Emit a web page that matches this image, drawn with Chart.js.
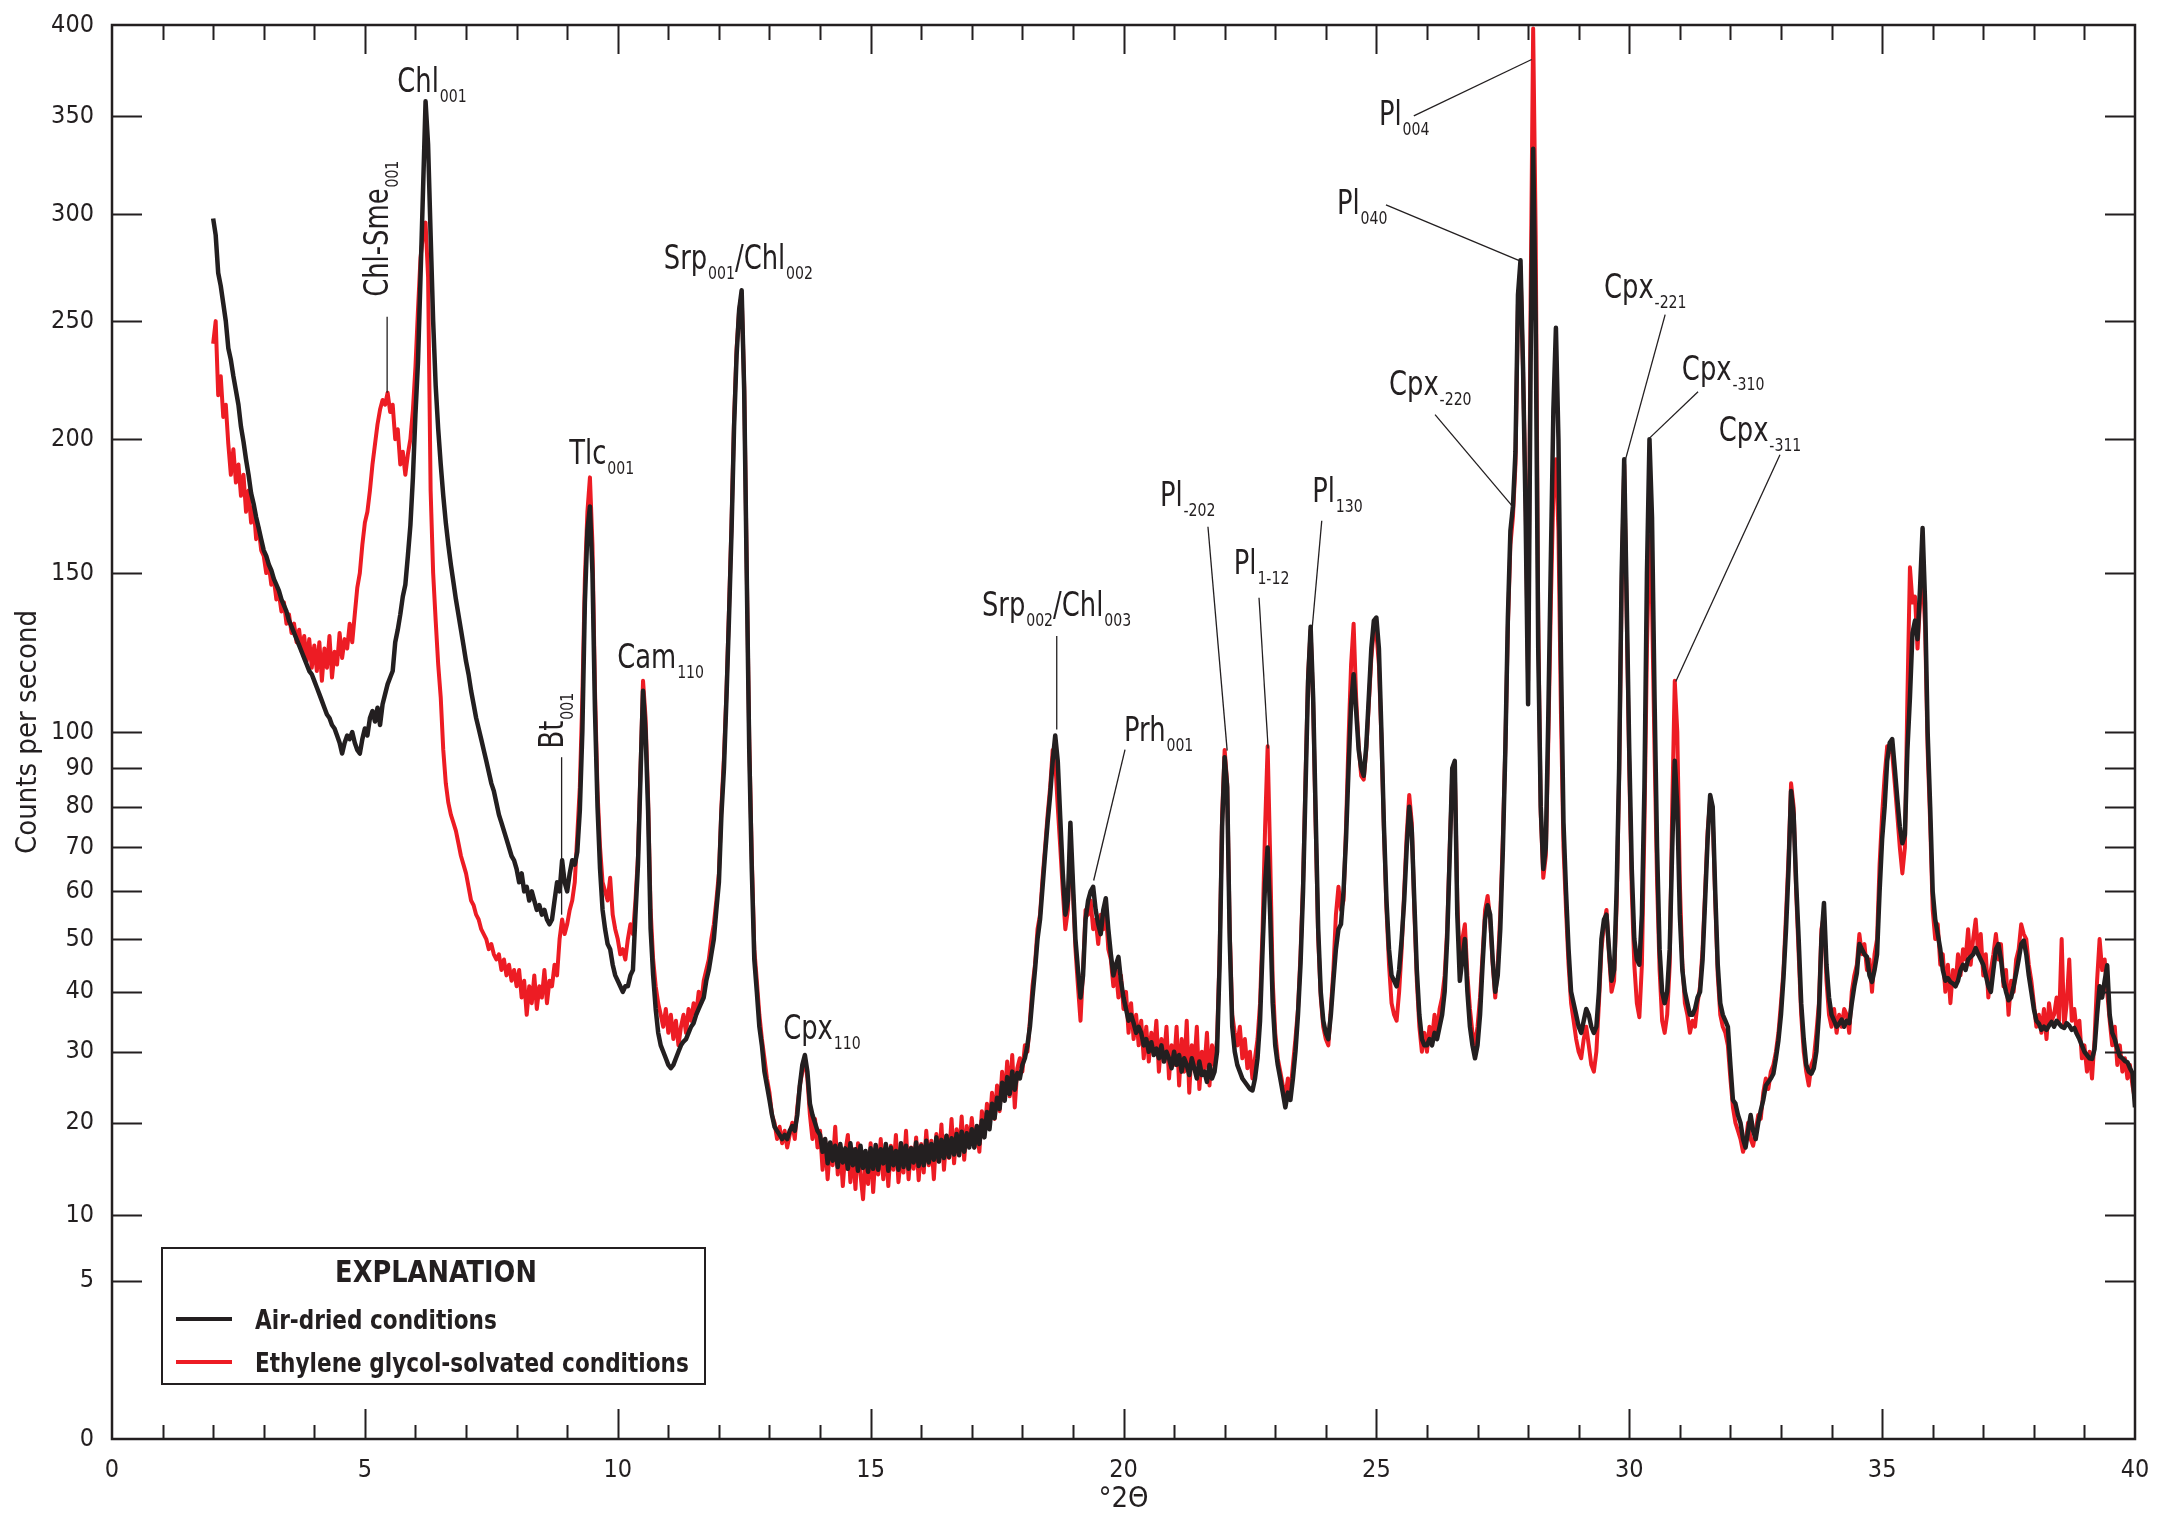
<!DOCTYPE html>
<html>
<head>
<meta charset="utf-8">
<title>XRD pattern - air-dried vs ethylene glycol-solvated</title>
<script src="https://cdn.jsdelivr.net/npm/chart.js@4.4.1/dist/chart.umd.min.js"></script>
<style>
  html, body { margin: 0; padding: 0; background: #fff; }
  #wrap { width: 2170px; height: 1530px; }
</style>
</head>
<body>
<div id="wrap"><canvas id="xrd" width="2170" height="1530"></canvas></div>
<script>
// scan grid (degrees 2-theta), one reading every step
const scanStart = 2.0;
const scanStep = 0.05;

// counts per second, one row per degree (20 readings)
const airDried = [
  298, 290, 272, 266, 258, 250, 238, 233, 226, 220, 214, 205, 199, 192, 186, 179, 175, 170, 166, 162, // 2
  158, 156, 153, 151, 148, 146, 144, 141, 139, 137, 134, 132, 130, 128, 126, 124, 122, 120, 118, 117, // 3
  115, 113, 111, 109, 107, 105, 104, 102, 101, 99, 97, 94, 97, 99, 98, 100, 97, 95, 94, 98,           // 4
  101, 99, 104, 106, 103, 107, 102, 108, 111, 114, 116, 118, 127, 131, 136, 142, 146, 156, 167, 185,  // 5
  210, 232, 270, 312, 358, 335, 290, 250, 222, 204, 190, 178, 168, 160, 153, 147, 141, 136, 131, 126, // 6
  121, 117, 112, 108, 104, 101, 98, 95, 92, 89, 86, 84, 81, 78, 76, 74, 72, 70, 68, 67,               // 7
  65, 62, 64, 60, 61, 58, 60, 58, 56, 57, 55, 56, 54, 53, 54, 58, 62, 60, 67, 62,                     // 8
  60, 64, 67, 66, 69, 79, 100, 140, 165, 174, 150, 106, 80, 65, 56, 52, 49, 48, 45, 43,               // 9
  42, 41, 40, 41, 41, 43, 44, 55, 66, 88, 112, 100, 79, 52, 43, 37, 33, 31, 30, 29,                   // 10
  28, 27.5, 28, 29, 30, 31, 31.6, 32, 33, 34, 34.6, 36, 37, 38, 39, 42, 44, 47, 50, 56,               // 11
  62, 78, 90, 110, 135, 165, 205, 235, 255, 264, 220, 150, 95, 65, 46, 40, 34, 31, 27, 25,            // 12
  23, 21, 19.5, 19, 18.5, 18, 18.5, 18, 19, 19.6, 19, 21, 25, 28, 29.5, 27, 22.5, 21, 20, 19,         // 13
  18.5, 16.5, 18, 15.2, 17.6, 15.5, 17.2, 14.8, 17.4, 15.3, 16.9, 14.6, 17.5, 15, 16.8, 14.4, 17.2, 14.7, 16.6, 14.3, // 14
  16.9, 14.6, 17.3, 14.5, 16.8, 15.2, 17.4, 14.4, 17, 15, 16.6, 14.5, 17.5, 14.8, 17.2, 14.6, 16.9, 15.3, 17.6, 14.9, // 15
  17.2, 15, 17.8, 15.3, 17.4, 15.6, 18.2, 15.4, 17.9, 15.8, 18.4, 15.9, 18.1, 16.2, 18.6, 16.1, 18.9, 16.5, 18.7, 17,  // 16
  19.2, 17, 19.6, 17.4, 20.3, 18.2, 21.4, 19.2, 22.5, 20.6, 23.3, 21.8, 25.4, 22.9, 26.2, 23.8, 27, 24.4, 26.8, 26,    // 17
  28, 29, 31, 34, 39, 44, 50, 54, 61, 68.5, 76, 83, 92, 99, 92, 77, 64, 55, 58, 76,                   // 18
  62, 50, 44, 39, 43, 54, 58, 60, 61, 56, 53, 51, 56, 58.5, 52, 47, 43, 45, 46.5, 42,                 // 19
  39, 37, 35, 36, 34.6, 33, 34, 33, 31, 32, 30, 31.5, 29.5, 30.5, 29, 31, 28.5, 30, 29, 27.5,         // 20
  30, 28, 29.5, 27, 29, 28, 26.5, 29, 27.5, 26, 28.5, 26.5, 27, 25.5, 28, 26, 27, 30, 45, 75,         // 21
  93, 85, 50, 34, 30, 28, 27, 26, 25.5, 25, 24.5, 24.3, 26, 29, 35, 48, 62, 70, 55, 38,               // 22
  31, 28, 26, 24, 22, 24, 23, 26, 30, 36, 45, 60, 85, 115, 132, 110, 78, 52, 40, 35,                  // 23
  33, 32, 36, 42, 48, 52, 53, 60, 72, 90, 108, 117, 106, 95, 90, 88, 96, 110, 125, 134,               // 24
  135, 125, 100, 75, 58, 48, 43, 42, 41, 44, 50, 58, 70, 80, 74, 58, 44, 36, 32, 31,                  // 25
  31, 32, 31, 33, 32, 34, 36, 40, 50, 68, 90, 92, 55, 42, 46, 50, 40, 34, 31, 29,                     // 26
  31, 36, 45, 54, 57, 55, 46, 40, 43, 52, 69, 95, 135, 165, 174, 195, 262, 278, 230, 172,             // 27
  108, 232, 333, 250, 125, 80, 65, 70, 105, 155, 212, 247, 200, 122, 76, 60, 48, 40, 38, 36,          // 28
  34, 33, 35, 37, 36, 34, 33, 34, 40, 50, 54, 55, 48, 42, 44, 60, 90, 150, 192, 140,                  // 29
  95, 65, 50, 46, 45, 55, 85, 150, 200, 170, 110, 70, 48, 40, 38, 40, 48, 70, 92, 80,                 // 30
  55, 44, 40, 38, 36, 36, 37, 39, 40, 46, 58, 72, 83, 80, 60, 45, 38, 36, 35, 34,                     // 31
  28, 23, 22.5, 21, 20, 18, 17, 19, 21, 19, 18, 20, 21.6, 23, 25, 25.5, 26, 26.7, 29, 31.8,           // 32
  36, 42.6, 52, 65, 84, 78, 62, 50, 38, 32, 28, 27, 26.7, 27.5, 30, 36, 50, 57.5, 45, 39,             // 33
  36, 35, 34, 34.5, 35.2, 34, 35, 34.6, 38, 41, 43.4, 49, 48, 47, 46.5, 43, 41.8, 44, 47, 60,         // 34
  72, 80, 92, 97, 98, 90, 82, 75, 71, 73, 95, 110, 130, 134, 128, 145, 166, 140, 100, 80,             // 35
  60, 54, 51, 48, 44, 42, 42.5, 41.8, 41.5, 41, 42, 44, 45, 44, 46, 46.5, 47, 48.2, 47, 46,           // 36
  45, 43, 41, 40, 44, 48, 49, 46, 42, 40, 38.5, 39, 41, 43.4, 46, 49, 49.7, 47, 43, 40,               // 37
  37, 35, 34.5, 33.5, 34, 33.5, 34.2, 34.8, 34, 35, 34.5, 34, 33.8, 34.6, 34.2, 33.5, 33.8, 32.8, 32, 31, // 38
  30, 29.5, 29, 28.9, 30.4, 36, 41, 39, 42, 44.9, 36, 33, 32, 30.5, 29.3, 29, 28.6, 28.4, 27.5, 26.8, // 39
  22                                                                                                  // 40
];

const glycolSolvated = [
  240, 250, 218, 226, 209, 214, 198, 186, 196, 183, 190, 178, 186, 172, 180, 168, 174, 162, 166, 158, // 2
  156, 150, 153, 146, 148, 141, 143, 137, 140, 133, 136, 130, 133, 127, 131, 124, 129, 121, 128, 119, // 3
  126, 118, 127, 115, 125, 119, 129, 116, 124, 120, 130, 122, 128, 125, 133, 127, 136, 145, 150, 160, // 4
  168, 172, 180, 190, 198, 206, 212, 216, 214, 219, 211, 214, 200, 204, 190, 195, 186, 194, 200, 212, // 5
  230, 255, 279, 290, 296, 270, 180, 150, 134, 120, 110, 95, 86, 81, 78, 76, 74, 71, 68, 66,          // 6
  64, 61, 58, 57, 55, 54, 52, 51, 50, 48, 49, 47, 46, 47, 44, 46, 43, 45, 42, 44,                     // 7
  41, 44, 39, 42, 36, 41, 38, 43, 37, 41, 39, 44, 38, 42, 41, 45, 43, 50, 54, 51,                     // 8
  53, 56, 58, 62, 73, 85, 110, 148, 172, 185, 160, 112, 84, 70, 62, 60, 58, 63, 55, 52,               // 9
  50, 47, 48, 46, 50, 53, 51, 58, 68, 90, 115, 104, 82, 56, 46, 41, 38, 36, 34, 37,                   // 10
  33, 36, 32, 35, 31, 34, 36, 33, 37, 35, 38, 36, 40, 38, 42, 44, 46, 50, 53, 58,                     // 11
  64, 80, 93, 112, 138, 168, 208, 238, 255, 262, 222, 152, 98, 68, 48, 42, 36, 32, 29, 26,            // 12
  24, 21, 20, 18, 19.5, 17.5, 19, 17, 18.5, 20, 18, 22, 25, 27, 29, 26, 21, 18, 20.5, 17,             // 13
  19, 14.5, 18, 13.5, 17.5, 15, 19.5, 14, 17, 12.8, 16.5, 18.5, 13.2, 16.8, 12.5, 17.5, 14, 11.5, 16, 13, // 14
  17.5, 12.2, 16.5, 14, 18, 13.5, 16.8, 12.8, 17.2, 14.5, 18.5, 13.2, 16, 14.2, 19, 13.5, 17, 14.6, 18.2, 13.4, // 15
  17.4, 14.2, 19, 15, 17.8, 13.5, 18.6, 15.4, 19.8, 14.5, 18.4, 15.8, 20.5, 15.2, 19.2, 16.4, 20.8, 15.6, 19.6, 17.2, // 16
  20.6, 17, 19.5, 16.5, 21.5, 18.5, 22.5, 19.5, 24, 20.5, 25, 21.5, 27, 23, 28.5, 23.5, 29.5, 22, 27.5, 29, // 17
  27, 31, 30, 35, 41, 45, 52, 55, 63, 70, 78, 85, 95, 92, 80, 70, 60, 52, 56, 72,                     // 18
  60, 48, 41, 35, 44, 56, 55, 58, 52, 54, 49, 55, 52, 56, 48, 46, 41, 44, 39, 43,                     // 19
  37, 40, 33, 38, 32, 36, 31, 35, 29, 34, 28.5, 33, 30, 35, 27, 32, 29, 34, 26, 31,                   // 20
  28, 34, 25, 32, 27, 35, 24, 31, 28, 34, 24.5, 30, 27.5, 33, 25, 31, 28, 32, 47, 78,                 // 21
  95, 86, 52, 36, 33, 31, 34, 29, 32, 27.5, 30, 26, 29, 32, 38, 52, 75, 96, 68, 42,                   // 22
  33, 29, 27, 25, 23.4, 26, 24, 28, 32, 37, 47, 62, 88, 117, 131, 108, 75, 50, 39, 34,                // 23
  32, 31, 37, 44, 55, 61, 56, 58, 75, 98, 120, 133, 110, 96, 88, 87, 95, 108, 122, 131,               // 24
  130, 120, 98, 74, 56, 45, 38, 36, 35, 40, 48, 60, 73, 83, 76, 56, 42, 34, 30, 33,                   // 25
  30, 34, 32, 36, 33, 37, 39, 43, 52, 70, 88, 90, 58, 45, 50, 53, 43, 37, 33, 31,                     // 26
  34, 39, 47, 56, 59, 54, 45, 39, 45, 55, 72, 96, 132, 160, 170, 190, 258, 275, 228, 178,             // 27
  115, 260, 398, 290, 135, 78, 63, 68, 98, 140, 180, 192, 165, 105, 70, 56, 45, 38, 35, 32,           // 28
  30, 29, 32, 34, 31, 28, 27, 30, 38, 48, 53, 56, 47, 40, 42, 57, 88, 145, 190, 135,                  // 29
  90, 60, 45, 38, 35.6, 45, 75, 125, 163, 140, 95, 62, 44, 35, 33, 36, 45, 80, 115, 100,              // 30
  62, 45, 38, 36, 33, 35, 34, 38, 41, 48, 60, 74, 82, 78, 58, 43, 36, 34, 33, 31,                     // 31
  26, 22, 20, 19, 18, 16.5, 17.5, 20, 18, 17.2, 19, 21, 20.5, 24, 26, 24.5, 27, 28, 30, 33,           // 32
  38, 44, 55, 68, 86, 80, 60, 47, 36, 30, 27, 25, 28, 29, 33, 38, 52, 55, 42, 36,                     // 33
  34, 37, 33, 36, 34, 37, 36, 33, 40, 43, 45, 51, 47, 49, 44, 46, 40, 47, 50, 66,                     // 34
  78, 88, 96, 95, 94, 86, 78, 70, 64, 70, 110, 152, 140, 142, 125, 140, 150, 132, 95, 76,             // 35
  56, 50, 53, 45, 47, 40, 45, 38, 44, 41, 47, 43, 48, 46, 52, 45, 50, 54, 47, 51,                     // 36
  43, 47, 39, 44, 47, 51, 46, 49, 41, 44, 36, 42, 40, 46, 48, 53, 51, 50, 45, 42,                     // 37
  38, 34, 36, 33, 37, 32, 38, 35, 36, 39, 35, 50, 34, 38, 46, 35, 37, 33, 35, 29,                     // 38
  31, 27, 30, 26, 32, 42, 50, 44, 46, 40, 35, 31, 34, 28, 31, 27, 29, 26, 28, 25,                     // 39
  23                                                                                                  // 40
];

const seriesNames = ['Air-dried conditions', 'Ethylene glycol-solvated conditions'];
const countTicks = [0, 5, 10, 20, 30, 40, 50, 60, 70, 80, 90, 100, 150, 200, 250, 300, 350, 400];
const angleTicks = [0, 5, 10, 15, 20, 25, 30, 35, 40];

// peak labels: text anchor and leader line, in data units (degrees, counts)
const peakLabels = [
  { text: 'Chl_{001}', at: [5.64, 363] },
  { text: 'Chl-Sme_{001}', at: [5.46, 261], vertical: true, line: [[5.44, 252], [5.44, 219]] },
  { text: 'Tlc_{001}', at: [9.04, 190] },
  { text: 'Cam_{110}', at: [9.99, 119] },
  { text: 'Bt_{001}', at: [8.92, 95.4], vertical: true, line: [[8.89, 93], [8.89, 55]] },
  { text: 'Srp_{001}/Chl_{002}', at: [10.91, 274] },
  { text: 'Cpx_{110}', at: [13.27, 32] },
  { text: 'Srp_{002}/Chl_{003}', at: [17.2, 135.6], line: [[18.68, 129], [18.68, 100.7]] },
  { text: 'Prh_{001}', at: [20.01, 97.6], line: [[20.03, 95.1], [19.41, 62.4]] },
  { text: 'Pl_{-202}', at: [20.72, 174.3], line: [[21.67, 166.5], [22.05, 94.8]] },
  { text: 'Pl_{1-12}', at: [22.18, 149.8], line: [[22.68, 141.6], [22.86, 95.4]] },
  { text: 'Pl_{130}', at: [23.73, 175.8], line: [[23.92, 168.7], [23.73, 131.4]] },
  { text: 'Pl_{004}', at: [25.05, 345.2], line: [[25.74, 350.2], [28.07, 380.7]] },
  { text: 'Pl_{040}', at: [24.22, 300.3], line: [[25.19, 304.7], [27.85, 277.6]] },
  { text: 'Cpx_{-220}', at: [25.25, 217.9], line: [[26.16, 209.9], [27.68, 174.3]] },
  { text: 'Cpx_{-221}', at: [29.5, 260.5], line: [[30.71, 252.9], [29.92, 191.5]] },
  { text: 'Cpx_{-310}', at: [31.04, 224.5], line: [[31.36, 219.4], [30.41, 200.6]] },
  { text: 'Cpx_{-311}', at: [31.77, 199.1], line: [[32.98, 193.8], [30.92, 114.8]] }
];

const INK = '#231f20';
const RED = '#ed1c24';
const NARROW = "'Liberation Sans Narrow', 'DejaVu Sans Condensed', 'Arial Narrow', sans-serif";

// square-root count axis
class SqrtScale extends Chart.LinearScale {
  static id = 'sqrt';
  buildTicks() {
    return countTicks.map(v => ({ value: v }));
  }
  configure() {
    super.configure();
    this._startValue = Math.sqrt(Math.max(this.min, 0));
    this._valueRange = Math.sqrt(this.max) - this._startValue;
  }
  getPixelForValue(value) {
    if (value === null || value === undefined || isNaN(value)) return NaN;
    return this.getPixelForDecimal((Math.sqrt(Math.max(value, 0)) - this._startValue) / this._valueRange);
  }
  getValueForPixel(pixel) {
    const d = this.getDecimalForPixel(pixel);
    return Math.pow(this._startValue + d * this._valueRange, 2);
  }
}
Chart.register(SqrtScale);

function toPoints(values) {
  return values.map((v, i) => ({ x: +(scanStart + i * scanStep).toFixed(2), y: v }));
}

// text with _{...} subscripts, squeezed horizontally to the condensed look
function drawRich(ctx, text, mainFont, subFont, drop, squeeze) {
  const parts = text.split(/(_\{[^}]*\})/).filter(Boolean);
  ctx.save();
  ctx.scale(squeeze, 1);
  let cx = 0;
  parts.forEach(p => {
    const sub = p.startsWith('_{');
    const s = sub ? p.slice(2, -1) : p;
    ctx.font = sub ? subFont : mainFont;
    ctx.fillText(s, cx, sub ? drop : 0);
    cx += ctx.measureText(s).width + (sub ? 0 : 1);
  });
  ctx.restore();
}

function squeezedText(ctx, text, x, y, squeeze) {
  ctx.save();
  ctx.translate(x, y);
  ctx.scale(squeeze, 1);
  ctx.fillText(text, 0, 0);
  ctx.restore();
}

const framePlugin = {
  id: 'frame',
  afterDraw(chart) {
    const { ctx, chartArea: a, scales: { x, y } } = chart;
    ctx.save();
    ctx.strokeStyle = INK;
    ctx.fillStyle = INK;

    // inward ticks on all four sides
    ctx.lineWidth = 2;
    ctx.beginPath();
    for (let t = 1; t < 40; t++) {
      const px = Math.round(x.getPixelForValue(t)) + 0.5;
      const major = t % 5 === 0;
      ctx.moveTo(px, a.bottom); ctx.lineTo(px, a.bottom - (major ? 30 : 14));
      ctx.moveTo(px, a.top); ctx.lineTo(px, a.top + (major ? 29 : 15));
    }
    countTicks.forEach(v => {
      if (v === 0 || v === 400) return;
      const py = Math.round(y.getPixelForValue(v)) + 0.5;
      ctx.moveTo(a.left, py); ctx.lineTo(a.left + 30, py);
      ctx.moveTo(a.right, py); ctx.lineTo(a.right - 30, py);
    });
    ctx.stroke();

    ctx.lineWidth = 2.5;
    ctx.strokeRect(a.left, a.top, a.right - a.left, a.bottom - a.top);

    // axis titles
    ctx.textAlign = 'center';
    ctx.textBaseline = 'middle';
    ctx.font = '29px ' + NARROW;
    ctx.fillText('\u00B02\u0398', (a.left + a.right) / 2, a.bottom + 60);
    ctx.save();
    ctx.translate(28, (a.top + a.bottom) / 2);
    ctx.rotate(-Math.PI / 2);
    ctx.fillText('Counts per second', 0, 0);
    ctx.restore();

    // peak labels
    ctx.textAlign = 'left';
    ctx.textBaseline = 'alphabetic';
    const mainFont = '33px ' + NARROW;
    const subFont = '18px ' + NARROW;
    peakLabels.forEach(lab => {
      if (lab.line) {
        ctx.lineWidth = 1.3;
        ctx.beginPath();
        ctx.moveTo(x.getPixelForValue(lab.line[0][0]), y.getPixelForValue(lab.line[0][1]));
        ctx.lineTo(x.getPixelForValue(lab.line[1][0]), y.getPixelForValue(lab.line[1][1]));
        ctx.stroke();
      }
      ctx.save();
      ctx.translate(x.getPixelForValue(lab.at[0]), y.getPixelForValue(lab.at[1]));
      if (lab.vertical) ctx.rotate(-Math.PI / 2);
      drawRich(ctx, lab.text, mainFont, subFont, 10, 0.87);
      ctx.restore();
    });

    // explanation box
    const bx = a.left + 50, by = a.bottom - 191, bw = 543, bh = 136;
    ctx.fillStyle = '#fff';
    ctx.fillRect(bx, by, bw, bh);
    ctx.lineWidth = 2;
    ctx.strokeStyle = INK;
    ctx.strokeRect(bx, by, bw, bh);
    ctx.fillStyle = INK;
    ctx.font = 'bold 31px ' + NARROW;
    const head = 'EXPLANATION';
    const headW = ctx.measureText(head).width * 0.92;
    squeezedText(ctx, head, bx + 274 - headW / 2, by + 34, 0.92);
    ctx.font = 'bold 27px ' + NARROW;
    [INK, RED].forEach((c, i) => {
      const ly = by + 71 + i * 43;
      ctx.strokeStyle = c;
      ctx.lineWidth = 4;
      ctx.beginPath();
      ctx.moveTo(bx + 14, ly);
      ctx.lineTo(bx + 70, ly);
      ctx.stroke();
      squeezedText(ctx, seriesNames[i], bx + 93, ly + 10, 0.89);
    });
    ctx.restore();
  }
};

Chart.defaults.font.family = NARROW;
Chart.defaults.color = INK;

new Chart(document.getElementById('xrd'), {
  type: 'line',
  data: {
    datasets: [
      {
        label: seriesNames[0],
        data: toPoints(airDried),
        borderColor: INK,
        borderWidth: 4.5,
        pointRadius: 0,
        borderJoinStyle: 'round',
        tension: 0
      },
      {
        label: seriesNames[1],
        data: toPoints(glycolSolvated),
        borderColor: RED,
        borderWidth: 4,
        pointRadius: 0,
        borderJoinStyle: 'round',
        tension: 0
      }
    ]
  },
  options: {
    responsive: false,
    animation: false,
    devicePixelRatio: 1,
    parsing: false,
    layout: { padding: { left: 0, right: 35, top: 25, bottom: 0 } },
    plugins: {
      legend: { display: false },
      tooltip: { enabled: false }
    },
    scales: {
      x: {
        type: 'linear',
        min: 0,
        max: 40,
        grid: { display: false },
        border: { display: false },
        afterFit: s => { s.height = 91; },
        afterBuildTicks: s => { s.ticks = angleTicks.map(v => ({ value: v })); },
        ticks: {
          autoSkip: false,
          maxRotation: 0,
          padding: 8,
          font: { size: 25 },
          color: INK,
          callback: v => String(v)
        }
      },
      y: {
        type: 'sqrt',
        min: 0,
        max: 400,
        grid: { display: false },
        border: { display: false },
        afterFit: s => { s.width = 112; },
        ticks: {
          autoSkip: false,
          padding: 10,
          font: { size: 25 },
          color: INK,
          callback: v => String(v)
        }
      }
    }
  },
  plugins: [framePlugin]
});
</script>
</body>
</html>
